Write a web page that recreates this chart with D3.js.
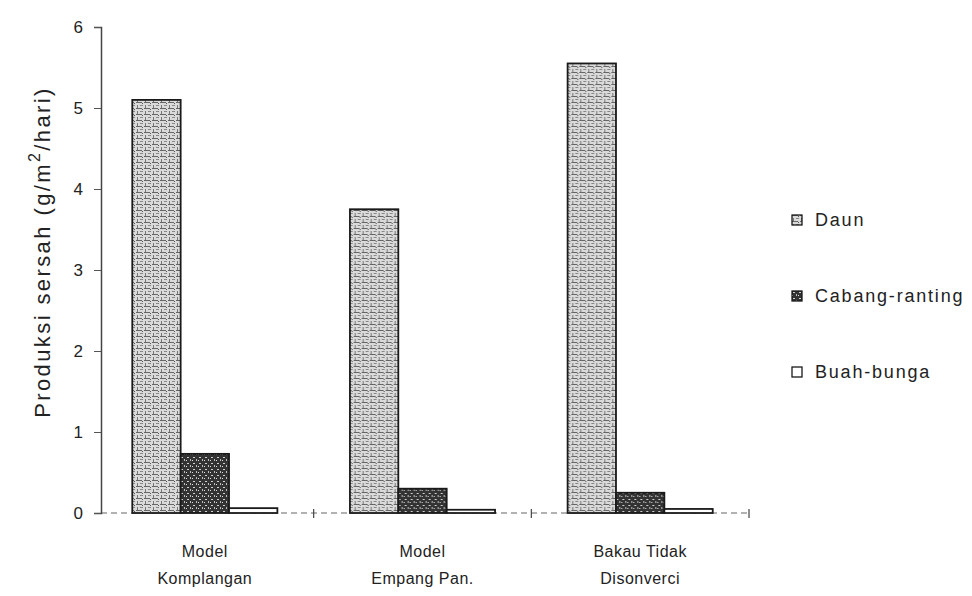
<!DOCTYPE html>
<html>
<head>
<meta charset="utf-8">
<script src="https://cdn.jsdelivr.net/npm/d3@7"></script>
<style>
  body { margin: 0; background: #fff; }
  text { font-family: "Liberation Sans", Arial, sans-serif; fill: #222; }
</style>
</head>
<body>
<div id="chart"></div>
<script>
// data
const categoryLabels = [["Model", "Komplangan"], ["Model", "Empang Pan."], ["Bakau Tidak", "Disonverci"]];
const seriesNames = ["Daun", "Cabang-ranting", "Buah-bunga"];
const daun = [5.1, 3.75, 5.55];
const cabang = [0.73, 0.3, 0.25];
const buah = [0.06, 0.04, 0.05];
const yTicks = [0, 1, 2, 3, 4, 5, 6];

const width = 972, height = 596;
const margin = { left: 101, top: 27 };

const svg = d3.select("#chart")
    .append("svg")
    .attr("width", width)
    .attr("height", height);

// fill patterns imitating the printed hatching
const defs = svg.append("defs");

const pDaun = defs.append("pattern")
    .attr("id", "pDaun")
    .attr("patternUnits", "userSpaceOnUse")
    .attr("width", 8).attr("height", 6);
pDaun.append("rect").attr("width", 8).attr("height", 6).attr("fill", "#dadada");
pDaun.append("rect").attr("x", 0).attr("y", 0).attr("width", 6).attr("height", 1).attr("fill", "#666");
pDaun.append("rect").attr("x", 1).attr("y", 3).attr("width", 1).attr("height", 3).attr("fill", "#777");
pDaun.append("rect").attr("x", 4).attr("y", 3).attr("width", 3).attr("height", 1).attr("fill", "#888");
pDaun.append("rect").attr("x", 6).attr("y", 1).attr("width", 1).attr("height", 1).attr("fill", "#555");

const pCab = defs.append("pattern")
    .attr("id", "pCab")
    .attr("patternUnits", "userSpaceOnUse")
    .attr("width", 6).attr("height", 6);
pCab.append("rect").attr("width", 6).attr("height", 6).attr("fill", "#333");
pCab.append("rect").attr("x", 1).attr("y", 1).attr("width", 2).attr("height", 1).attr("fill", "#cfcfcf");
pCab.append("rect").attr("x", 4).attr("y", 3).attr("width", 1).attr("height", 2).attr("fill", "#bdbdbd");
pCab.append("rect").attr("x", 0).attr("y", 4).attr("width", 1).attr("height", 1).attr("fill", "#e0e0e0");

const fills = { "Daun": "url(#pDaun)", "Cabang-ranting": "url(#pCab)", "Buah-bunga": "#ffffff" };

const x0 = d3.scaleBand()
    .domain(d3.range(categoryLabels.length))
    .range([96, 749])
    .padding(0);

const x1 = d3.scaleBand()
    .domain(seriesNames)
    .range([0, x0.bandwidth()])
    .paddingInner(0)
    .paddingOuter(0.75);

const y = d3.scaleLinear()
    .domain([0, 6])
    .range([513, margin.top]);

const rows = categoryLabels.map((c, i) => ({
    idx: i,
    values: [
        { key: "Daun", value: daun[i] },
        { key: "Cabang-ranting", value: cabang[i] },
        { key: "Buah-bunga", value: buah[i] }
    ]
}));

// x baseline (dashed, as in the scan)
svg.append("line")
    .attr("x1", margin.left).attr("x2", 751)
    .attr("y1", y(0)).attr("y2", y(0))
    .attr("stroke", "#666")
    .attr("stroke-width", 1.2)
    .attr("stroke-dasharray", "6,4");

// tick marks at category boundaries
svg.selectAll(".xtick")
    .data(d3.range(1, categoryLabels.length + 1))
    .enter()
    .append("line")
    .attr("x1", d => x0(d - 1) + x0.bandwidth())
    .attr("x2", d => x0(d - 1) + x0.bandwidth())
    .attr("y1", y(0) - 4)
    .attr("y2", y(0) + 5)
    .attr("stroke", "#444")
    .attr("stroke-width", 1.2);

// bars
const groups = svg.selectAll(".grp")
    .data(rows)
    .enter()
    .append("g")
    .attr("transform", d => `translate(${x0(d.idx)},0)`);

groups.selectAll("rect")
    .data(d => d.values)
    .enter()
    .append("rect")
    .attr("x", d => x1(d.key))
    .attr("y", d => y(d.value))
    .attr("width", x1.bandwidth())
    .attr("height", d => y(0) - y(d.value))
    .attr("fill", d => fills[d.key])
    .attr("stroke", "#1a1a1a")
    .attr("stroke-width", 1.8);

// y axis
const yAxis = d3.axisLeft(y)
    .tickValues(yTicks)
    .tickSize(7)
    .tickPadding(10)
    .tickFormat(d3.format("d"));

const gy = svg.append("g")
    .attr("transform", `translate(${margin.left},0)`)
    .call(yAxis);
gy.select(".domain").attr("stroke", "#444").attr("stroke-width", 1.5);
gy.selectAll(".tick line").attr("stroke", "#555");
gy.selectAll(".tick text")
    .style("font-size", "17px")
    .style("font-family", "Liberation Sans, Arial, sans-serif")
    .style("letter-spacing", "1px")
    .attr("fill", "#222");

// category labels
const labels = svg.selectAll(".clabel")
    .data(categoryLabels)
    .enter()
    .append("text")
    .attr("text-anchor", "middle")
    .attr("y", 557)
    .style("font-size", "16px")
    .style("letter-spacing", "0.5px");
labels.append("tspan")
    .attr("x", (d, i) => x0(i) + x0.bandwidth() / 2)
    .text(d => d[0]);
labels.append("tspan")
    .attr("x", (d, i) => x0(i) + x0.bandwidth() / 2)
    .attr("dy", 27)
    .text(d => d[1]);

// y axis title with superscript
const yTitle = svg.append("text")
    .attr("transform", "translate(50, 252) rotate(-90)")
    .attr("text-anchor", "middle")
    .style("font-size", "22px")
    .style("letter-spacing", "2.4px");
yTitle.append("tspan").text("Produksi sersah (g/m");
yTitle.append("tspan").attr("dy", -10).style("font-size", "16px").text("2");
yTitle.append("tspan").attr("dy", 10).text("/hari)");

// legend
const legend = svg.append("g")
    .attr("transform", "translate(792, 215)");

const item = legend.selectAll(".leg")
    .data(seriesNames)
    .enter()
    .append("g")
    .attr("transform", (d, i) => `translate(0, ${i * 76})`);

item.append("rect")
    .attr("x", 0).attr("y", 0)
    .attr("width", 10).attr("height", 10)
    .attr("fill", d => fills[d])
    .attr("stroke", "#1a1a1a")
    .attr("stroke-width", 1.3);

item.append("text")
    .attr("x", 23)
    .attr("y", 11)
    .style("font-size", "18px")
    .style("letter-spacing", "1.8px")
    .text(d => d);
</script>
</body>
</html>
